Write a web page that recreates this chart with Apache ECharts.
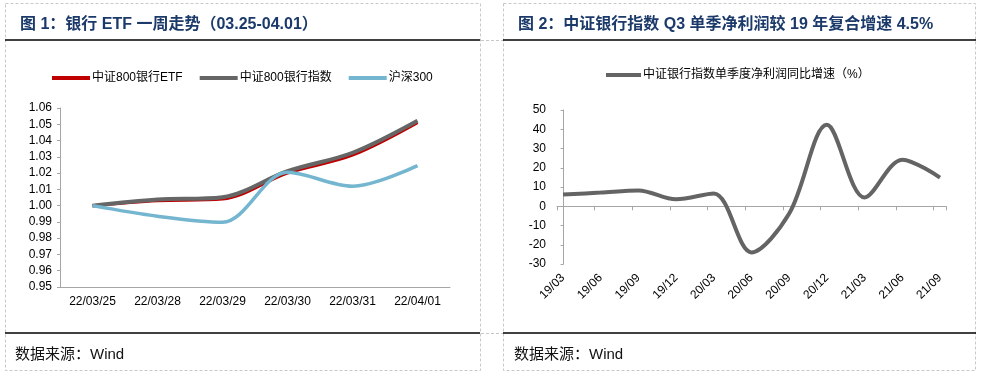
<!DOCTYPE html>
<html>
<head>
<meta charset="utf-8">
<script src="https://cdn.jsdelivr.net/npm/echarts@6/dist/echarts.min.js"></script>
<style>
  html, body { margin: 0; padding: 0; background: #fff; }
  #chart { width: 982px; height: 375px; }
</style>
</head>
<body>
<div id="chart"></div>
<script>
// 图1：银行ETF一周走势
const weekDates = ['22/03/25', '22/03/28', '22/03/29', '22/03/30', '22/03/31', '22/04/01'];
const etfValues = [1.000, 1.003, 1.004, 1.020, 1.031, 1.051];
const bankIndexValues = [1.000, 1.0037, 1.0052, 1.0212, 1.0325, 1.0522];
const hs300Values = [1.000, 0.9935, 0.9898, 1.0205, 1.0119, 1.0246];
const weekTicks = [0.95, 1.06, 0.01];

// 图2：中证银行指数单季度净利润同比增速
const quarters = ['19/03', '19/06', '19/09', '19/12', '20/03', '20/06', '20/09', '20/12', '21/03', '21/06', '21/09'];
const profitGrowth = [6.1, 7.1, 8.2, 3.6, 6.6, -24.0, -3.8, 42.3, 4.5, 24.2, 14.9];
const growthTicks = [-30, 50, 10];

const font = '"Liberation Sans", Arial, "Noto Sans CJK SC", sans-serif';
const axisGray = '#a6a6a6';
const titleBlue = '#1b3a6a';
const smoothness = 0.33;

const chart = echarts.init(document.getElementById('chart'), null, { renderer: 'canvas' });

const dashed = { stroke: '#c8c8c8', lineWidth: 1, lineDash: [3, 2], fill: null };
const solid = { stroke: '#000', lineWidth: 1.5 };

const option = {
  backgroundColor: '#fff',
  animation: false,
  textStyle: { fontFamily: font },
  title: [
    {
      text: '图 1：银行 ETF 一周走势（03.25-04.01）',
      left: 15, top: 12,
      textStyle: { fontSize: 16, fontWeight: 'bold', color: titleBlue, fontFamily: font }
    },
    {
      text: '图 2：中证银行指数 Q3 单季净利润较 19 年复合增速 4.5%',
      left: 513, top: 12,
      textStyle: { fontSize: 16, fontWeight: 'bold', color: titleBlue, fontFamily: font }
    },
    {
      text: '数据来源：Wind',
      left: 10, top: 342,
      textStyle: { fontSize: 15, fontWeight: 'normal', color: '#111', fontFamily: font }
    },
    {
      text: '数据来源：Wind',
      left: 509, top: 342,
      textStyle: { fontSize: 15, fontWeight: 'normal', color: '#111', fontFamily: font }
    }
  ],
  legend: [
    {
      data: ['中证800银行ETF', '中证800银行指数', '沪深300'],
      left: 52, top: 72, padding: 0,
      icon: 'rect', itemWidth: 38, itemHeight: 4, itemGap: 17,
      textStyle: { fontSize: 12, color: '#000', padding: [0, 0, 0, -3] }
    },
    {
      data: ['中证银行指数单季度净利润同比增速（%）'],
      left: 606, top: 69, padding: 0,
      icon: 'rect', itemWidth: 35, itemHeight: 4,
      textStyle: { fontSize: 12, color: '#000', padding: [0, 0, 0, -3] }
    }
  ],
  grid: [
    { left: 60, right: 532, top: 108, bottom: 88 },
    // axis frame of chart 2
    { left: 557, right: 36, top: 110, bottom: 111 },
    // data area of chart 2
    { left: 563, right: 42, top: 110, bottom: 111 }
  ],
  xAxis: [
    {
      gridIndex: 0,
      type: 'category',
      data: weekDates,
      boundaryGap: true,
      axisLine: { lineStyle: { color: axisGray } },
      axisTick: { length: 4, lineStyle: { color: axisGray } },
      axisLabel: { fontSize: 12, color: '#000', margin: 9 }
    },
    {
      gridIndex: 1,
      type: 'value',
      min: -0.175, max: 10.15, interval: 1,
      axisLine: { onZero: true, lineStyle: { color: axisGray } },
      axisTick: { show: true, length: 4, lineStyle: { color: axisGray } },
      axisLabel: { show: false },
      splitLine: { show: false }
    },
    {
      gridIndex: 2,
      type: 'category',
      data: quarters,
      boundaryGap: false,
      axisLine: { show: false, onZero: false },
      axisTick: { show: false },
      axisLabel: { fontSize: 12, color: '#000', rotate: 45, margin: 12 }
    }
  ],
  yAxis: [
    {
      gridIndex: 0,
      type: 'value',
      min: weekTicks[0], max: weekTicks[1], interval: weekTicks[2],
      axisLine: { show: true, lineStyle: { color: axisGray } },
      axisTick: { show: true, length: 3, lineStyle: { color: axisGray } },
      axisLabel: { fontSize: 12, color: '#000', margin: 8, formatter: v => v.toFixed(2) },
      splitLine: { show: false }
    },
    {
      gridIndex: 1,
      type: 'value',
      min: growthTicks[0], max: growthTicks[1], interval: growthTicks[2],
      axisLine: { show: true, lineStyle: { color: axisGray } },
      axisTick: { show: true, length: 3, lineStyle: { color: axisGray } },
      axisLabel: { fontSize: 12, color: '#000', margin: 11 },
      splitLine: { show: false }
    },
    {
      gridIndex: 2,
      type: 'value',
      min: growthTicks[0], max: growthTicks[1],
      show: false
    }
  ],
  series: [
    {
      name: '中证800银行ETF',
      type: 'line', xAxisIndex: 0, yAxisIndex: 0,
      data: etfValues, smooth: smoothness, showSymbol: false,
      color: '#c00000',
      lineStyle: { width: 3, color: '#c00000' }
    },
    {
      name: '中证800银行指数',
      type: 'line', xAxisIndex: 0, yAxisIndex: 0,
      data: bankIndexValues, smooth: smoothness, showSymbol: false,
      color: '#666666',
      lineStyle: { width: 4, color: '#666666' }
    },
    {
      name: '沪深300',
      type: 'line', xAxisIndex: 0, yAxisIndex: 0,
      data: hs300Values, smooth: smoothness, showSymbol: false,
      color: '#74b5d0',
      lineStyle: { width: 3.5, color: '#74b5d0' }
    },
    {
      name: '中证银行指数单季度净利润同比增速（%）',
      type: 'line', xAxisIndex: 2, yAxisIndex: 2,
      data: profitGrowth, smooth: smoothness, showSymbol: false,
      color: '#646464',
      lineStyle: { width: 4, color: '#646464' }
    }
  ],
  graphic: [
    // dashed panel frames
    { type: 'rect', shape: { x: 5.5, y: 3.5, width: 475, height: 367 }, style: dashed, silent: true },
    { type: 'rect', shape: { x: 503.5, y: 3.5, width: 472, height: 367 }, style: dashed, silent: true },
    { type: 'line', shape: { x1: 481, y1: 40.5, x2: 503, y2: 40.5 }, style: dashed, silent: true },
    { type: 'line', shape: { x1: 481, y1: 333.5, x2: 503, y2: 333.5 }, style: dashed, silent: true },
    // title and source rules
    { type: 'line', shape: { x1: 5, y1: 40, x2: 480, y2: 40 }, style: solid, silent: true },
    { type: 'line', shape: { x1: 503, y1: 40, x2: 976, y2: 40 }, style: solid, silent: true },
    { type: 'line', shape: { x1: 5, y1: 333, x2: 480, y2: 333 }, style: solid, silent: true },
    { type: 'line', shape: { x1: 503, y1: 333, x2: 976, y2: 333 }, style: solid, silent: true }
  ]
};

chart.setOption(option);
</script>
</body>
</html>
